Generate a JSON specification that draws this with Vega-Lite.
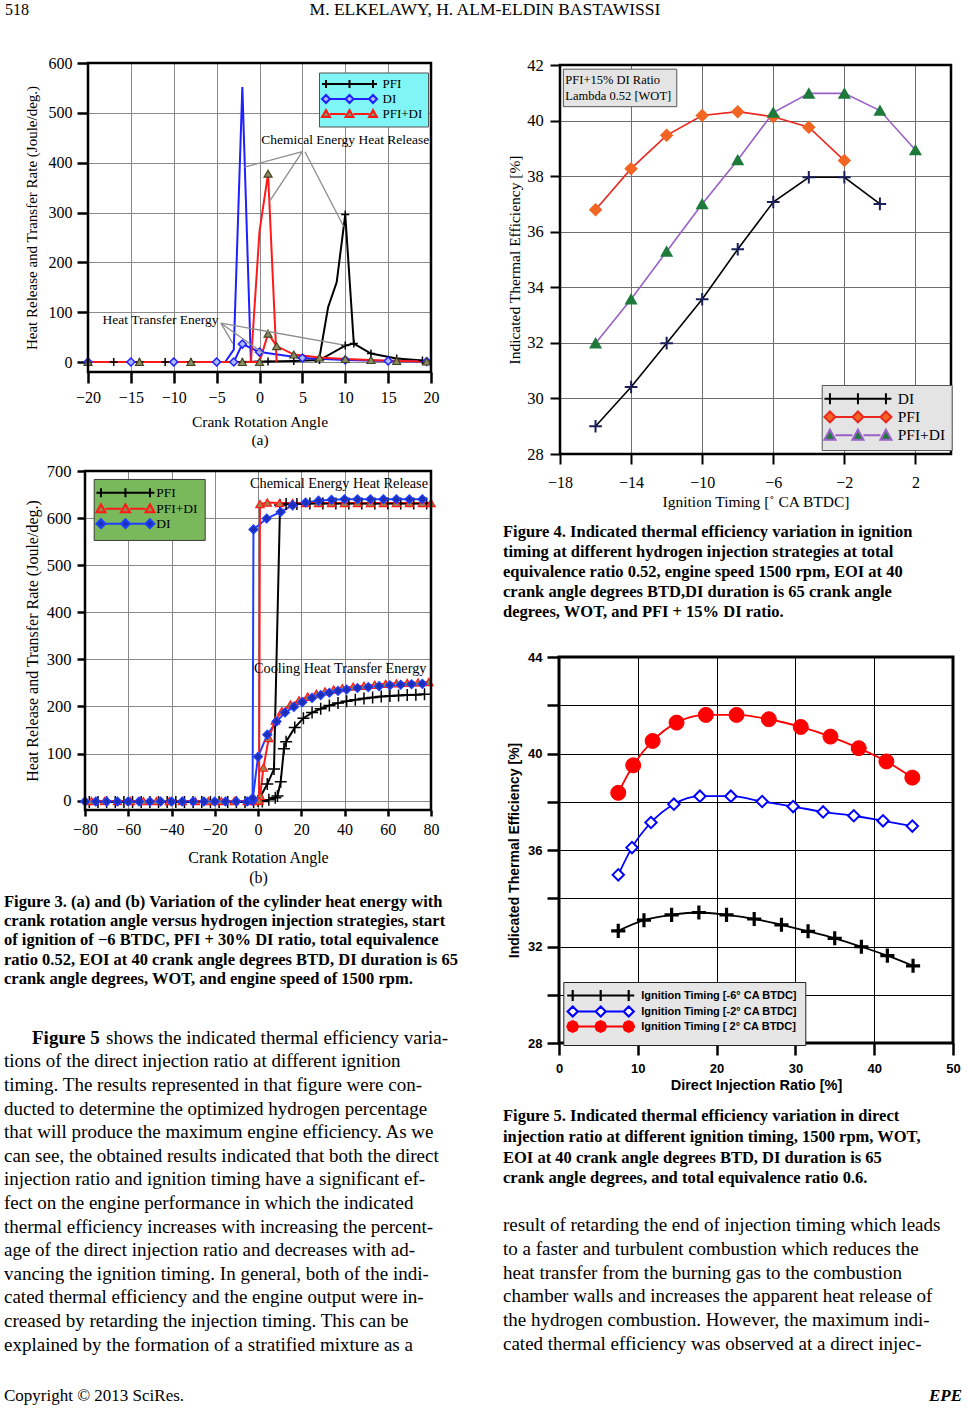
{
"$schema":"https://vega.github.io/schema/vega-lite/v6.json",
"background":"white",
"padding":{"left":4,"top":0,"right":0,"bottom":0},
"spacing":0,
"resolve":{"scale":{"color":"independent"},"legend":{"color":"independent"}},
"config":{
 "view":{"stroke":null},
 "font":"Liberation Serif",
 "text":{"font":"Liberation Serif","color":"black"},
 "axis":{"labelFont":"Liberation Serif","titleFont":"Liberation Serif","titleFontWeight":"normal","labelColor":"black","titleColor":"black","tickColor":"black","domain":false,"gridColor":"#8a8a8a","gridWidth":1,"gridOpacity":1,"labelFlush":false,"labelOverlap":false},
 "legend":{"labelFont":"Liberation Serif","labelColor":"black"}
},
"vconcat":[
 {"width":962,"height":20,
  "data":{"values":[{"slot":"left","text":"518"},{"slot":"center","text":"M. ELKELAWY, H. ALM-ELDIN BASTAWISSI"}]},
  "encoding":{"x":{"field":"slot","type":"nominal","scale":{"type":"point","domain":["left","center","right"],"padding":0},"axis":null},"text":{"field":"text"}},
  "layer":[
   {"transform":[{"filter":"datum.slot === 'left'"}],"mark":{"type":"text","align":"left","baseline":"middle","fontSize":16,"dx":1}},
   {"transform":[{"filter":"datum.slot === 'center'"}],"mark":{"type":"text","align":"center","baseline":"middle","fontSize":17.5}}
  ]},
 {"width":1,"height":26,"mark":"text","data":{"values":[]}},
 {"resolve":{"scale":{"color":"independent"},"legend":{"color":"independent"}},
  "hconcat":[
  {"resolve":{"scale":{"color":"independent"},"legend":{"color":"independent"}},
   "vconcat":[
   {"width":1,"height":9,"mark":"text","data":{"values":[]}},
   {"resolve":{"scale":{"color":"independent"},"legend":{"color":"independent"}},
    "hconcat":[
    {"width":20,"height":1,"mark":"text","data":{"values":[]}},
    {"width":343,"height":309,
     "data":{"values":[
      {"strategy":"PFI","curve":"transfer","x":-20,"y":0},{"strategy":"PFI","curve":"transfer","x":-17,"y":0},{"strategy":"PFI","curve":"transfer","x":-14,"y":0},{"strategy":"PFI","curve":"transfer","x":-11,"y":0},{"strategy":"PFI","curve":"transfer","x":-8,"y":0},{"strategy":"PFI","curve":"transfer","x":-5,"y":0},{"strategy":"PFI","curve":"transfer","x":-2,"y":0},{"strategy":"PFI","curve":"transfer","x":1,"y":1},{"strategy":"PFI","curve":"transfer","x":4,"y":2},{"strategy":"PFI","curve":"transfer","x":7,"y":4},{"strategy":"PFI","curve":"transfer","x":10,"y":33},{"strategy":"PFI","curve":"transfer","x":11,"y":37},{"strategy":"PFI","curve":"transfer","x":13,"y":17},{"strategy":"PFI","curve":"transfer","x":16,"y":7},{"strategy":"PFI","curve":"transfer","x":19,"y":3},
      {"strategy":"PFI","curve":"release","x":6.5,"y":0},{"strategy":"PFI","curve":"release","x":7,"y":10},{"strategy":"PFI","curve":"release","x":8,"y":110},{"strategy":"PFI","curve":"release","x":9,"y":160},{"strategy":"PFI","curve":"release","x":10,"y":296},{"strategy":"PFI","curve":"release","x":11,"y":37},
      {"strategy":"DI","curve":"transfer","x":-20,"y":0},{"strategy":"DI","curve":"transfer","x":-15,"y":0},{"strategy":"DI","curve":"transfer","x":-10,"y":0},{"strategy":"DI","curve":"transfer","x":-5,"y":0},{"strategy":"DI","curve":"transfer","x":-3,"y":0},{"strategy":"DI","curve":"transfer","x":-2,"y":36},{"strategy":"DI","curve":"transfer","x":0,"y":20},{"strategy":"DI","curve":"transfer","x":5,"y":8},{"strategy":"DI","curve":"transfer","x":10,"y":4},{"strategy":"DI","curve":"transfer","x":15,"y":2},{"strategy":"DI","curve":"transfer","x":19.5,"y":1},
      {"strategy":"DI","curve":"release","x":-4,"y":0},{"strategy":"DI","curve":"release","x":-3,"y":25},{"strategy":"DI","curve":"release","x":-2,"y":552},{"strategy":"DI","curve":"release","x":-1,"y":0},{"strategy":"DI","curve":"release","x":0,"y":1},
      {"strategy":"PFI+DI","curve":"transfer","x":-20,"y":0},{"strategy":"PFI+DI","curve":"transfer","x":-14,"y":0},{"strategy":"PFI+DI","curve":"transfer","x":-8,"y":0},{"strategy":"PFI+DI","curve":"transfer","x":-2,"y":0},{"strategy":"PFI+DI","curve":"transfer","x":0,"y":0},{"strategy":"PFI+DI","curve":"transfer","x":1,"y":57},{"strategy":"PFI+DI","curve":"transfer","x":2,"y":32},{"strategy":"PFI+DI","curve":"transfer","x":4,"y":15},{"strategy":"PFI+DI","curve":"transfer","x":7,"y":9},{"strategy":"PFI+DI","curve":"transfer","x":10,"y":6},{"strategy":"PFI+DI","curve":"transfer","x":13,"y":4},{"strategy":"PFI+DI","curve":"transfer","x":16,"y":2},{"strategy":"PFI+DI","curve":"transfer","x":19.5,"y":1},
      {"strategy":"PFI+DI","curve":"release","x":-1,"y":0},{"strategy":"PFI+DI","curve":"release","x":0,"y":262},{"strategy":"PFI+DI","curve":"release","x":1,"y":378},{"strategy":"PFI+DI","curve":"release","x":2,"y":0}
     ]},
     "layer":[
      {"mark":{"type":"line","strokeWidth":2},
       "encoding":{
        "x":{"field":"x","type":"quantitative","scale":{"domain":[-20,20],"nice":false,"zero":false},"axis":{"values":[-20,-15,-10,-5,0,5,10,15,20],"title":["Crank Rotation Angle","(a)"],"titleLineHeight":18,"titleFontSize":15.5,"labelFontSize":16,"tickSize":11,"tickWidth":2.5,"labelPadding":6,"titlePadding":9}},
        "y":{"field":"y","type":"quantitative","scale":{"domain":[-20,600],"nice":false,"zero":false},"axis":{"values":[0,100,200,300,400,500,600],"title":"Heat Release and Transfer Rate (Joule/deg.)","titleFontSize":15,"labelFontSize":16,"tickSize":11,"tickWidth":2.5,"labelPadding":5,"titlePadding":9}},
        "color":{"field":"strategy","type":"nominal","scale":{"domain":["PFI","DI","PFI+DI"],"range":["#000000","#1f1fff","#ff1a1a"]},
         "legend":{"orient":"none","legendX":231,"legendY":9.5,"title":null,"fillColor":"#7ff5f5","strokeColor":"#555555","padding":5,"labelFontSize":13,"symbolSize":4,"symbolStrokeWidth":2,"symbolOffset":-4.5,"labelOffset":50,"rowPadding":-3.3,
          "encode":{"symbols":{"update":{
           "shape":{"signal":"datum.value === 'PFI' ? 'M-4,0H51M0,-4V4M23.5,-4V4M47,-4V4' : datum.value === 'DI' ? 'M4,0H19.5M27.5,0H43M0,-4L4,0L0,4L-4,0ZM23.5,-4L27.5,0L23.5,4L19.5,0ZM47,-4L51,0L47,4L43,0Z' : 'M4,0H19.5M27.5,0H43M0,-4L4,3L-4,3ZM23.5,-4L27.5,3L19.5,3ZM47,-4L51,3L43,3Z'"},
           "size":{"value":4},
           "fill":{"signal":"datum.value === 'PFI' ? 'black' : datum.value === 'DI' ? '#a9b8ff' : '#8c8c63'"},
           "stroke":{"signal":"datum.value === 'PFI' ? 'black' : datum.value === 'DI' ? '#1f1fff' : '#ff1a1a'"},
           "opacity":{"value":1}}}}}},
        "detail":{"field":"curve","type":"nominal"}}},
      {"transform":[{"joinaggregate":[{"op":"max","field":"y","as":"ymax"}],"groupby":["strategy","curve"]},{"filter":"datum.strategy === 'PFI' && (datum.curve === 'transfer' || datum.y === datum.ymax)"}],
       "mark":{"type":"point","shape":"M-1,0H1M0,-1V1","size":64,"stroke":"black","strokeWidth":1.5,"opacity":1},
       "encoding":{"x":{"field":"x","type":"quantitative"},"y":{"field":"y","type":"quantitative"}}},
      {"transform":[{"filter":"datum.strategy === 'DI' && datum.curve === 'transfer'"}],
       "mark":{"type":"point","shape":"diamond","size":64,"fill":"#a9b8ff","stroke":"#1f1fff","strokeWidth":1.5,"opacity":1},
       "encoding":{"x":{"field":"x","type":"quantitative"},"y":{"field":"y","type":"quantitative"}}},
      {"transform":[{"joinaggregate":[{"op":"max","field":"y","as":"ymax"}],"groupby":["strategy","curve"]},{"filter":"datum.strategy === 'PFI+DI' && (datum.curve === 'transfer' || datum.y === datum.ymax)"}],
       "mark":{"type":"point","shape":"triangle-up","size":64,"fill":"#8c8c63","stroke":"#444422","strokeWidth":1.2,"opacity":1},
       "encoding":{"x":{"field":"x","type":"quantitative"},"y":{"field":"y","type":"quantitative"}}},
      {"data":{"values":[{"x":5.0,"y":422,"x2":-1.75,"y2":391},{"x":5.0,"y":422,"x2":1.15,"y2":322},{"x":5.3,"y":422,"x2":9.82,"y2":272},{"x":-4.5,"y":78,"x2":-3.1,"y2":37},{"x":-4.5,"y":78,"x2":0.5,"y2":17},{"x":-4.5,"y":78,"x2":9.9,"y2":34}]},
       "mark":{"type":"rule","color":"#8c8c8c","strokeWidth":1.3},
       "encoding":{"x":{"field":"x","type":"quantitative"},"y":{"field":"y","type":"quantitative"},"x2":{"field":"x2"},"y2":{"field":"y2"}}},
      {"data":{"values":[{"x":0.2,"y":445,"label":"Chemical Energy Heat Release"},{"x":-18.3,"y":84,"label":"Heat Transfer Energy"}]},
       "mark":{"type":"text","align":"left","baseline":"middle","fontSize":13.5},
       "encoding":{"x":{"field":"x","type":"quantitative"},"y":{"field":"y","type":"quantitative"},"text":{"field":"label"}}},
      {"data":{"values":[{}]},"mark":{"type":"rect","filled":false,"color":"black","strokeWidth":2.5}}
     ]}
   ],"spacing":0},
   {"width":1,"height":15,"mark":"text","data":{"values":[]}},
   {"resolve":{"scale":{"color":"independent"},"legend":{"color":"independent"}},
    "hconcat":[
    {"width":20,"height":1,"mark":"text","data":{"values":[]}},
    {"width":346,"height":339,
     "data":{"values":[
      {"strategy":"PFI","curve":"transfer","x":-78,"y":-3},{"strategy":"PFI","curve":"transfer","x":-74,"y":-3},{"strategy":"PFI","curve":"transfer","x":-70,"y":-3},{"strategy":"PFI","curve":"transfer","x":-66,"y":-3},{"strategy":"PFI","curve":"transfer","x":-62,"y":-3},{"strategy":"PFI","curve":"transfer","x":-58,"y":-3},{"strategy":"PFI","curve":"transfer","x":-54,"y":-3},{"strategy":"PFI","curve":"transfer","x":-50,"y":-3},{"strategy":"PFI","curve":"transfer","x":-46,"y":-3},{"strategy":"PFI","curve":"transfer","x":-42,"y":-3},{"strategy":"PFI","curve":"transfer","x":-38,"y":-3},{"strategy":"PFI","curve":"transfer","x":-34,"y":-3},{"strategy":"PFI","curve":"transfer","x":-30,"y":-3},{"strategy":"PFI","curve":"transfer","x":-26,"y":-3},{"strategy":"PFI","curve":"transfer","x":-22,"y":-3},{"strategy":"PFI","curve":"transfer","x":-18,"y":-3},{"strategy":"PFI","curve":"transfer","x":-14,"y":-3},{"strategy":"PFI","curve":"transfer","x":-10,"y":-3},{"strategy":"PFI","curve":"transfer","x":-6,"y":-3},{"strategy":"PFI","curve":"transfer","x":-2,"y":-3},{"strategy":"PFI","curve":"transfer","x":2,"y":-2},{"strategy":"PFI","curve":"transfer","x":5,"y":2},{"strategy":"PFI","curve":"transfer","x":8,"y":6},{"strategy":"PFI","curve":"transfer","x":9,"y":10},{"strategy":"PFI","curve":"transfer","x":10.5,"y":40},{"strategy":"PFI","curve":"transfer","x":12,"y":110},{"strategy":"PFI","curve":"transfer","x":13,"y":125},{"strategy":"PFI","curve":"transfer","x":17,"y":155},{"strategy":"PFI","curve":"transfer","x":21,"y":175},{"strategy":"PFI","curve":"transfer","x":25,"y":187},{"strategy":"PFI","curve":"transfer","x":29,"y":195},{"strategy":"PFI","curve":"transfer","x":33,"y":202},{"strategy":"PFI","curve":"transfer","x":37,"y":207},{"strategy":"PFI","curve":"transfer","x":41,"y":211},{"strategy":"PFI","curve":"transfer","x":45,"y":214},{"strategy":"PFI","curve":"transfer","x":49,"y":217},{"strategy":"PFI","curve":"transfer","x":53,"y":219},{"strategy":"PFI","curve":"transfer","x":57,"y":221},{"strategy":"PFI","curve":"transfer","x":61,"y":222},{"strategy":"PFI","curve":"transfer","x":65,"y":223},{"strategy":"PFI","curve":"transfer","x":69,"y":224},{"strategy":"PFI","curve":"transfer","x":73,"y":225},{"strategy":"PFI","curve":"transfer","x":77,"y":226},
      {"strategy":"PFI","curve":"release","x":0,"y":-1},{"strategy":"PFI","curve":"release","x":4.3,"y":35},{"strategy":"PFI","curve":"release","x":7.4,"y":67},{"strategy":"PFI","curve":"release","x":10.2,"y":628},{"strategy":"PFI","curve":"release","x":13,"y":630},{"strategy":"PFI","curve":"release","x":18,"y":630},{"strategy":"PFI","curve":"release","x":24,"y":631},{"strategy":"PFI","curve":"release","x":30,"y":631},{"strategy":"PFI","curve":"release","x":36,"y":631},{"strategy":"PFI","curve":"release","x":42,"y":631},{"strategy":"PFI","curve":"release","x":48,"y":631},{"strategy":"PFI","curve":"release","x":54,"y":631},{"strategy":"PFI","curve":"release","x":60,"y":631},{"strategy":"PFI","curve":"release","x":66,"y":631},{"strategy":"PFI","curve":"release","x":72,"y":631},{"strategy":"PFI","curve":"release","x":78,"y":631},
      {"strategy":"DI","curve":"transfer","x":-80,"y":-2},{"strategy":"DI","curve":"transfer","x":-75,"y":-2},{"strategy":"DI","curve":"transfer","x":-70,"y":-2},{"strategy":"DI","curve":"transfer","x":-65,"y":-2},{"strategy":"DI","curve":"transfer","x":-60,"y":-2},{"strategy":"DI","curve":"transfer","x":-55,"y":-2},{"strategy":"DI","curve":"transfer","x":-50,"y":-2},{"strategy":"DI","curve":"transfer","x":-45,"y":-2},{"strategy":"DI","curve":"transfer","x":-40,"y":-2},{"strategy":"DI","curve":"transfer","x":-35,"y":-2},{"strategy":"DI","curve":"transfer","x":-30,"y":-2},{"strategy":"DI","curve":"transfer","x":-25,"y":-2},{"strategy":"DI","curve":"transfer","x":-20,"y":-2},{"strategy":"DI","curve":"transfer","x":-15,"y":-2},{"strategy":"DI","curve":"transfer","x":-10,"y":-2},{"strategy":"DI","curve":"transfer","x":-5,"y":-2},{"strategy":"DI","curve":"transfer","x":-2.5,"y":0},{"strategy":"DI","curve":"transfer","x":0,"y":93},{"strategy":"DI","curve":"transfer","x":4.3,"y":140},{"strategy":"DI","curve":"transfer","x":8.6,"y":168},{"strategy":"DI","curve":"transfer","x":12.5,"y":187},{"strategy":"DI","curve":"transfer","x":16.6,"y":199},{"strategy":"DI","curve":"transfer","x":20.5,"y":209},{"strategy":"DI","curve":"transfer","x":25,"y":218},{"strategy":"DI","curve":"transfer","x":29,"y":224},{"strategy":"DI","curve":"transfer","x":33,"y":229},{"strategy":"DI","curve":"transfer","x":37,"y":233},{"strategy":"DI","curve":"transfer","x":41,"y":236},{"strategy":"DI","curve":"transfer","x":46,"y":239},{"strategy":"DI","curve":"transfer","x":51,"y":241},{"strategy":"DI","curve":"transfer","x":56,"y":243},{"strategy":"DI","curve":"transfer","x":61,"y":245},{"strategy":"DI","curve":"transfer","x":66,"y":246},{"strategy":"DI","curve":"transfer","x":71,"y":247},{"strategy":"DI","curve":"transfer","x":76,"y":248},
      {"strategy":"DI","curve":"release","x":-2.5,"y":5},{"strategy":"DI","curve":"release","x":-2.1,"y":576},{"strategy":"DI","curve":"release","x":4,"y":599},{"strategy":"DI","curve":"release","x":10.5,"y":613},{"strategy":"DI","curve":"release","x":16,"y":627},{"strategy":"DI","curve":"release","x":22,"y":633},{"strategy":"DI","curve":"release","x":28,"y":637},{"strategy":"DI","curve":"release","x":34,"y":639},{"strategy":"DI","curve":"release","x":40,"y":640},{"strategy":"DI","curve":"release","x":46,"y":640},{"strategy":"DI","curve":"release","x":52,"y":640},{"strategy":"DI","curve":"release","x":58,"y":640},{"strategy":"DI","curve":"release","x":64,"y":640},{"strategy":"DI","curve":"release","x":70,"y":640},{"strategy":"DI","curve":"release","x":76,"y":640},
      {"strategy":"PFI+DI","curve":"transfer","x":-77,"y":-1},{"strategy":"PFI+DI","curve":"transfer","x":-71,"y":-1},{"strategy":"PFI+DI","curve":"transfer","x":-65,"y":-1},{"strategy":"PFI+DI","curve":"transfer","x":-59,"y":-1},{"strategy":"PFI+DI","curve":"transfer","x":-53,"y":-1},{"strategy":"PFI+DI","curve":"transfer","x":-47,"y":-1},{"strategy":"PFI+DI","curve":"transfer","x":-41,"y":-1},{"strategy":"PFI+DI","curve":"transfer","x":-35,"y":-1},{"strategy":"PFI+DI","curve":"transfer","x":-29,"y":-1},{"strategy":"PFI+DI","curve":"transfer","x":-23,"y":-1},{"strategy":"PFI+DI","curve":"transfer","x":-17,"y":-1},{"strategy":"PFI+DI","curve":"transfer","x":-11,"y":-1},{"strategy":"PFI+DI","curve":"transfer","x":-5,"y":-1},{"strategy":"PFI+DI","curve":"transfer","x":-1,"y":-1},{"strategy":"PFI+DI","curve":"transfer","x":1,"y":10},{"strategy":"PFI+DI","curve":"transfer","x":2.5,"y":70},{"strategy":"PFI+DI","curve":"transfer","x":5,"y":133},{"strategy":"PFI+DI","curve":"transfer","x":8,"y":170},{"strategy":"PFI+DI","curve":"transfer","x":11,"y":190},{"strategy":"PFI+DI","curve":"transfer","x":15,"y":204},{"strategy":"PFI+DI","curve":"transfer","x":19,"y":213},{"strategy":"PFI+DI","curve":"transfer","x":23,"y":221},{"strategy":"PFI+DI","curve":"transfer","x":27,"y":227},{"strategy":"PFI+DI","curve":"transfer","x":31,"y":232},{"strategy":"PFI+DI","curve":"transfer","x":35,"y":236},{"strategy":"PFI+DI","curve":"transfer","x":39,"y":239},{"strategy":"PFI+DI","curve":"transfer","x":44,"y":242},{"strategy":"PFI+DI","curve":"transfer","x":49,"y":244},{"strategy":"PFI+DI","curve":"transfer","x":54,"y":246},{"strategy":"PFI+DI","curve":"transfer","x":59,"y":248},{"strategy":"PFI+DI","curve":"transfer","x":64,"y":249},{"strategy":"PFI+DI","curve":"transfer","x":69,"y":250},{"strategy":"PFI+DI","curve":"transfer","x":74,"y":251},{"strategy":"PFI+DI","curve":"transfer","x":79,"y":252},
      {"strategy":"PFI+DI","curve":"release","x":0.5,"y":0},{"strategy":"PFI+DI","curve":"release","x":0.9,"y":630},{"strategy":"PFI+DI","curve":"release","x":4.3,"y":633},{"strategy":"PFI+DI","curve":"release","x":10,"y":632},{"strategy":"PFI+DI","curve":"release","x":16,"y":632},{"strategy":"PFI+DI","curve":"release","x":22,"y":632},{"strategy":"PFI+DI","curve":"release","x":28,"y":632},{"strategy":"PFI+DI","curve":"release","x":34,"y":632},{"strategy":"PFI+DI","curve":"release","x":40,"y":632},{"strategy":"PFI+DI","curve":"release","x":46,"y":632},{"strategy":"PFI+DI","curve":"release","x":52,"y":632},{"strategy":"PFI+DI","curve":"release","x":58,"y":632},{"strategy":"PFI+DI","curve":"release","x":64,"y":632},{"strategy":"PFI+DI","curve":"release","x":70,"y":632},{"strategy":"PFI+DI","curve":"release","x":76,"y":632},{"strategy":"PFI+DI","curve":"release","x":80,"y":632}
     ]},
     "layer":[
      {"mark":{"type":"line","strokeWidth":2},
       "encoding":{
        "x":{"field":"x","type":"quantitative","scale":{"domain":[-80,80],"nice":false,"zero":false},"axis":{"values":[-80,-60,-40,-20,0,20,40,60,80],"title":["Crank Rotation Angle","(b)"],"titleLineHeight":20,"titleFontSize":16,"labelFontSize":16,"tickSize":6,"tickWidth":2.5,"labelPadding":5,"titlePadding":12}},
        "y":{"field":"y","type":"quantitative","scale":{"domain":[-20,700],"nice":false,"zero":false},"axis":{"values":[0,100,200,300,400,500,600,700],"title":"Heat Release and Transfer Rate (Joule/deg.)","titleFontSize":16,"labelFontSize":16.5,"tickSize":8,"tickWidth":2.5,"labelPadding":6,"titlePadding":6}},
        "color":{"field":"strategy","type":"nominal","scale":{"domain":["PFI","PFI+DI","DI"],"range":["#000000","#ff1a1a","#1f3fff"]},
         "legend":{"orient":"none","legendX":8.7,"legendY":7.95,"title":null,"fillColor":"#7ab85c","strokeColor":"#3a3a3a","padding":7,"labelFontSize":13.5,"symbolSize":4,"symbolStrokeWidth":2,"symbolOffset":-6.5,"labelOffset":48.5,"rowPadding":-2.9,
          "encode":{"symbols":{"update":{
           "shape":{"signal":"datum.value === 'PFI' ? 'M-4.5,0H53.5M0,-4.5V4.5M24.5,-4.5V4.5M49,-4.5V4.5' : datum.value === 'PFI+DI' ? 'M4.5,0H20M29,0H44.5M0,-4.5L4.5,3.5L-4.5,3.5ZM24.5,-4.5L29,3.5L20,3.5ZM49,-4.5L53.5,3.5L44.5,3.5Z' : 'M4.5,0H20M29,0H44.5M0,-4.5L4.5,0L0,4.5L-4.5,0ZM24.5,-4.5L29,0L24.5,4.5L20,0ZM49,-4.5L53.5,0L49,4.5L44.5,0Z'"},
           "size":{"value":4},
           "fill":{"signal":"datum.value === 'PFI' ? 'black' : datum.value === 'PFI+DI' ? '#a08048' : '#1c2fb5'"},
           "stroke":{"signal":"datum.value === 'PFI' ? 'black' : datum.value === 'PFI+DI' ? '#ff1a1a' : '#1f3fff'"},
           "opacity":{"value":1}}}}}},
        "detail":{"field":"curve","type":"nominal"}}},
      {"transform":[{"filter":"datum.strategy === 'PFI'"}],
       "mark":{"type":"point","shape":"M-1,0H1M0,-1V1","size":144,"stroke":"black","strokeWidth":1.5,"opacity":1},
       "encoding":{"x":{"field":"x","type":"quantitative"},"y":{"field":"y","type":"quantitative"}}},
      {"transform":[{"filter":"datum.strategy === 'PFI+DI'"}],
       "mark":{"type":"point","shape":"triangle-up","size":70,"fill":"#a08048","stroke":"#ff1a1a","strokeWidth":1.2,"opacity":1},
       "encoding":{"x":{"field":"x","type":"quantitative"},"y":{"field":"y","type":"quantitative"}}},
      {"transform":[{"filter":"datum.strategy === 'DI'"}],
       "mark":{"type":"point","shape":"diamond","size":80,"fill":"#1c2fb5","stroke":"#1f3fff","strokeWidth":1.2,"opacity":1},
       "encoding":{"x":{"field":"x","type":"quantitative"},"y":{"field":"y","type":"quantitative"}}},
      {"data":{"values":[{"x":-3.7,"y":672,"label":"Chemical Energy Heat Release"},{"x":-1.85,"y":280,"label":"Cooling Heat Transfer Energy"}]},
       "mark":{"type":"text","align":"left","baseline":"middle","fontSize":14.3},
       "encoding":{"x":{"field":"x","type":"quantitative"},"y":{"field":"y","type":"quantitative"},"text":{"field":"label"}}},
      {"data":{"values":[{}]},"mark":{"type":"rect","filled":false,"color":"black","strokeWidth":2.5}}
     ]}
   ],"spacing":0},
   {"width":1,"height":6.35,"mark":"text","data":{"values":[]}},
   {"width":460,"height":96.5,
    "data":{"values":[
     {"line":1,"text":"Figure 3. (a) and (b) Variation of the cylinder heat energy with"},
     {"line":2,"text":"crank rotation angle versus hydrogen injection strategies, start"},
     {"line":3,"text":"of ignition of −6 BTDC, PFI + 30% DI ratio, total equivalence"},
     {"line":4,"text":"ratio 0.52, EOI at 40 crank angle degrees BTD, DI duration is 65"},
     {"line":5,"text":"crank angle degrees, WOT, and engine speed of 1500 rpm."}
    ]},
    "mark":{"type":"text","align":"left","baseline":"middle","fontSize":16.5,"fontWeight":"bold"},
    "encoding":{"x":{"datum":0,"type":"quantitative","scale":{"domain":[0,1]},"axis":null},"y":{"field":"line","type":"ordinal","scale":{"type":"point","padding":0.5},"axis":null},"text":{"field":"text"}}},
   {"width":1,"height":36.35,"mark":"text","data":{"values":[]}},
   {"width":460,"height":330.4,
    "encoding":{"x":{"datum":0,"type":"quantitative","scale":{"domain":[0,1]},"axis":null},"y":{"field":"line","type":"ordinal","scale":{"type":"point","padding":0.5,"domain":[1,2,3,4,5,6,7,8,9,10,11,12,13,14]},"axis":null},"text":{"field":"text"}},
    "layer":[
     {"data":{"values":[{"line":1,"text":"Figure 5"}]},"mark":{"type":"text","align":"left","baseline":"middle","fontSize":19,"fontWeight":"bold","dx":28}},
     {"data":{"name":"paraL","values":[
      {"line":1,"text":"shows the indicated thermal efficiency varia-"},
      {"line":2,"text":"tions of the direct injection ratio at different ignition"},
      {"line":3,"text":"timing. The results represented in that figure were con-"},
      {"line":4,"text":"ducted to determine the optimized hydrogen percentage"},
      {"line":5,"text":"that will produce the maximum engine efficiency. As we"},
      {"line":6,"text":"can see, the obtained results indicated that both the direct"},
      {"line":7,"text":"injection ratio and ignition timing have a significant ef-"},
      {"line":8,"text":"fect on the engine performance in which the indicated"},
      {"line":9,"text":"thermal efficiency increases with increasing the percent-"},
      {"line":10,"text":"age of the direct injection ratio and decreases with ad-"},
      {"line":11,"text":"vancing the ignition timing. In general, both of the indi-"},
      {"line":12,"text":"cated thermal efficiency and the engine output were in-"},
      {"line":13,"text":"creased by retarding the injection timing. This can be"},
      {"line":14,"text":"explained by the formation of a stratified mixture as a"}
     ]},"transform":[{"filter":"datum.line === 1"}],"mark":{"type":"text","align":"left","baseline":"middle","fontSize":19,"dx":102}},
     {"data":{"name":"paraL"},"transform":[{"filter":"datum.line > 1"}],"mark":{"type":"text","align":"left","baseline":"middle","fontSize":19}}
    ]}
  ],"spacing":0},
  {"resolve":{"scale":{"color":"independent"},"legend":{"color":"independent"}},
   "vconcat":[
   {"width":1,"height":11,"mark":"text","data":{"values":[]}},
   {"resolve":{"scale":{"color":"independent"},"legend":{"color":"independent"}},
    "hconcat":[
    {"width":4,"height":1,"mark":"text","data":{"values":[]}},
    {"width":391,"height":389,
     "data":{"values":[
      {"strategy":"DI","x":-16,"y":29.0},{"strategy":"DI","x":-14,"y":30.41},{"strategy":"DI","x":-12,"y":31.99},{"strategy":"DI","x":-10,"y":33.57},{"strategy":"DI","x":-8,"y":35.37},{"strategy":"DI","x":-6,"y":37.07},{"strategy":"DI","x":-4,"y":37.96},{"strategy":"DI","x":-2,"y":37.96},{"strategy":"DI","x":0,"y":37.0},
      {"strategy":"PFI","x":-16,"y":36.79},{"strategy":"PFI","x":-14,"y":38.27},{"strategy":"PFI","x":-12,"y":39.47},{"strategy":"PFI","x":-10,"y":40.18},{"strategy":"PFI","x":-8,"y":40.32},{"strategy":"PFI","x":-6,"y":40.14},{"strategy":"PFI","x":-4,"y":39.76},{"strategy":"PFI","x":-2,"y":38.56},
      {"strategy":"PFI+DI","x":-16,"y":31.99},{"strategy":"PFI+DI","x":-14,"y":33.57},{"strategy":"PFI+DI","x":-12,"y":35.29},{"strategy":"PFI+DI","x":-10,"y":37.0},{"strategy":"PFI+DI","x":-8,"y":38.58},{"strategy":"PFI+DI","x":-6,"y":40.29},{"strategy":"PFI+DI","x":-4,"y":40.98},{"strategy":"PFI+DI","x":-2,"y":40.98},{"strategy":"PFI+DI","x":0,"y":40.36},{"strategy":"PFI+DI","x":2,"y":38.94}
     ]},
     "layer":[
      {"data":{"values":[{"x":-17.81,"x2":-11.43,"y":41.85,"y2":40.5}]},
       "mark":{"type":"rect","fill":"#e4e4e4","stroke":"#555555","strokeWidth":1},
       "encoding":{"x":{"field":"x","type":"quantitative","scale":{"domain":[-18,4],"nice":false,"zero":false},"axis":{"values":[-18,-16,-14,-12,-10,-8,-6,-4,-2,0,2,4],"title":"Ignition Timing [˚ CA BTDC]","titleFontSize":15.5,"labelFontSize":16,"tickSize":10,"tickWidth":2,"labelPadding":10,"titlePadding":4,"gridColor":"#6e6e6e"}},
        "x2":{"field":"x2"},
        "y":{"field":"y","type":"quantitative","scale":{"domain":[28,42],"nice":false,"zero":false},"axis":{"values":[28,30,32,34,36,38,40,42],"title":"Indicated Thermal Efficiency [%]","titleFontSize":15.5,"labelFontSize":16.5,"tickSize":10,"tickWidth":2,"labelPadding":6.7,"titlePadding":4.6,"gridColor":"#6e6e6e"}},
        "y2":{"field":"y2"}}},
      {"data":{"values":[{"x":-17.7,"y":41.46,"label":"PFI+15% DI Ratio"},{"x":-17.7,"y":40.9,"label":"Lambda 0.52 [WOT]"}]},
       "mark":{"type":"text","align":"left","baseline":"middle","fontSize":12.5},
       "encoding":{"x":{"field":"x","type":"quantitative"},"y":{"field":"y","type":"quantitative"},"text":{"field":"label"}}},
      {"mark":{"type":"line","strokeWidth":1.6},
       "encoding":{
        "x":{"field":"x","type":"quantitative"},
        "y":{"field":"y","type":"quantitative"},
        "color":{"field":"strategy","type":"nominal","scale":{"domain":["DI","PFI","PFI+DI"],"range":["#000000","#e8281e","#9a5fc8"]},
         "legend":{"orient":"none","legendX":261.7,"legendY":320,"title":null,"fillColor":"#e4e4e4","strokeColor":"#555555","padding":6,"labelFontSize":15.5,"symbolSize":4,"symbolStrokeWidth":2,"symbolOffset":-5.5,"labelOffset":60,"rowPadding":-1.8,
          "encode":{"symbols":{"update":{
           "shape":{"signal":"datum.value === 'DI' ? 'M-5.5,0H61.5M0,-5.5V5.5M28,-5.5V5.5M56,-5.5V5.5' : datum.value === 'PFI' ? 'M5.5,0H22.5M33.5,0H50.5M0,-5.5L5.5,0L0,5.5L-5.5,0ZM28,-5.5L33.5,0L28,5.5L22.5,0ZM56,-5.5L61.5,0L56,5.5L50.5,0Z' : 'M5.5,0H22.5M33.5,0H50.5M0,-5.5L5.5,4.5L-5.5,4.5ZM28,-5.5L33.5,4.5L22.5,4.5ZM56,-5.5L61.5,4.5L50.5,4.5Z'"},
           "size":{"value":4},
           "fill":{"signal":"datum.value === 'DI' ? '#1a1f5a' : datum.value === 'PFI' ? '#f26522' : '#1e7a3a'"},
           "stroke":{"signal":"datum.value === 'DI' ? '#111133' : datum.value === 'PFI' ? '#e8281e' : '#9a5fc8'"},
           "opacity":{"value":1}}}}}}}},
      {"transform":[{"filter":"datum.strategy === 'DI'"}],
       "mark":{"type":"point","shape":"M-1,0H1M0,-1V1","size":160,"stroke":"#1a1f5a","strokeWidth":2,"opacity":1},
       "encoding":{"x":{"field":"x","type":"quantitative"},"y":{"field":"y","type":"quantitative"}}},
      {"transform":[{"filter":"datum.strategy === 'PFI'"}],
       "mark":{"type":"point","shape":"diamond","size":130,"fill":"#f26522","stroke":"#f26522","strokeWidth":1.5,"opacity":1},
       "encoding":{"x":{"field":"x","type":"quantitative"},"y":{"field":"y","type":"quantitative"}}},
      {"transform":[{"filter":"datum.strategy === 'PFI+DI'"}],
       "mark":{"type":"point","shape":"triangle-up","size":110,"fill":"#1e7a3a","stroke":"#1e7a3a","strokeWidth":1.5,"opacity":1},
       "encoding":{"x":{"field":"x","type":"quantitative"},"y":{"field":"y","type":"quantitative"}}},
      {"data":{"values":[{}]},"mark":{"type":"rect","filled":false,"color":"black","strokeWidth":2.5}}
     ]}
   ],"spacing":0},
   {"width":1,"height":11.2,"mark":"text","data":{"values":[]}},
   {"width":460,"height":100,
    "data":{"values":[
     {"line":1,"text":"Figure 4. Indicated thermal efficiency variation in ignition"},
     {"line":2,"text":"timing at different hydrogen injection strategies at total"},
     {"line":3,"text":"equivalence ratio 0.52, engine speed 1500 rpm, EOI at 40"},
     {"line":4,"text":"crank angle degrees BTD,DI duration is 65 crank angle"},
     {"line":5,"text":"degrees, WOT, and PFI + 15% DI ratio."}
    ]},
    "mark":{"type":"text","align":"left","baseline":"middle","fontSize":16.5,"fontWeight":"bold"},
    "encoding":{"x":{"datum":0,"type":"quantitative","scale":{"domain":[0,1]},"axis":null},"y":{"field":"line","type":"ordinal","scale":{"type":"point","padding":0.5},"axis":null},"text":{"field":"text"}}},
   {"width":1,"height":28.8,"mark":"text","data":{"values":[]}},
   {"resolve":{"scale":{"color":"independent"},"legend":{"color":"independent"}},
    "hconcat":[
    {"width":4,"height":1,"mark":"text","data":{"values":[]}},
    {"width":394,"height":386,
     "data":{"values":[
      {"series":"Ignition Timing [-6° CA BTDC]","x":7.52,"y":32.65},{"series":"Ignition Timing [-6° CA BTDC]","x":10.78,"y":33.09},{"series":"Ignition Timing [-6° CA BTDC]","x":14.29,"y":33.31},{"series":"Ignition Timing [-6° CA BTDC]","x":17.75,"y":33.41},{"series":"Ignition Timing [-6° CA BTDC]","x":21.26,"y":33.31},{"series":"Ignition Timing [-6° CA BTDC]","x":24.77,"y":33.14},{"series":"Ignition Timing [-6° CA BTDC]","x":28.23,"y":32.9},{"series":"Ignition Timing [-6° CA BTDC]","x":31.61,"y":32.63},{"series":"Ignition Timing [-6° CA BTDC]","x":34.99,"y":32.34},{"series":"Ignition Timing [-6° CA BTDC]","x":38.37,"y":31.99},{"series":"Ignition Timing [-6° CA BTDC]","x":41.67,"y":31.62},{"series":"Ignition Timing [-6° CA BTDC]","x":44.93,"y":31.2},
      {"series":"Ignition Timing [-2° CA BTDC]","x":7.52,"y":34.97},{"series":"Ignition Timing [-2° CA BTDC]","x":9.26,"y":36.1},{"series":"Ignition Timing [-2° CA BTDC]","x":11.67,"y":37.14},{"series":"Ignition Timing [-2° CA BTDC]","x":14.58,"y":37.9},{"series":"Ignition Timing [-2° CA BTDC]","x":17.88,"y":38.23},{"series":"Ignition Timing [-2° CA BTDC]","x":21.81,"y":38.23},{"series":"Ignition Timing [-2° CA BTDC]","x":25.78,"y":38.01},{"series":"Ignition Timing [-2° CA BTDC]","x":29.71,"y":37.8},{"series":"Ignition Timing [-2° CA BTDC]","x":33.52,"y":37.58},{"series":"Ignition Timing [-2° CA BTDC]","x":37.41,"y":37.42},{"series":"Ignition Timing [-2° CA BTDC]","x":41.12,"y":37.21},{"series":"Ignition Timing [-2° CA BTDC]","x":44.84,"y":36.99},
      {"series":"Ignition Timing [ 2° CA BTDC]","x":7.52,"y":38.37},{"series":"Ignition Timing [ 2° CA BTDC]","x":9.42,"y":39.51},{"series":"Ignition Timing [ 2° CA BTDC]","x":11.88,"y":40.52},{"series":"Ignition Timing [ 2° CA BTDC]","x":14.92,"y":41.28},{"series":"Ignition Timing [ 2° CA BTDC]","x":18.64,"y":41.6},{"series":"Ignition Timing [ 2° CA BTDC]","x":22.53,"y":41.6},{"series":"Ignition Timing [ 2° CA BTDC]","x":26.63,"y":41.42},{"series":"Ignition Timing [ 2° CA BTDC]","x":30.68,"y":41.1},{"series":"Ignition Timing [ 2° CA BTDC]","x":34.45,"y":40.7},{"series":"Ignition Timing [ 2° CA BTDC]","x":38.04,"y":40.22},{"series":"Ignition Timing [ 2° CA BTDC]","x":41.55,"y":39.67},{"series":"Ignition Timing [ 2° CA BTDC]","x":44.84,"y":39.0}
     ]},
     "layer":[
      {"mark":{"type":"line","strokeWidth":1.8,"interpolate":"monotone"},
       "encoding":{
        "x":{"field":"x","type":"quantitative","scale":{"domain":[0,50],"nice":false,"zero":false},"axis":{"values":[0,5,10,15,20,25,30,35,40,45,50],"labelExpr":"datum.value % 10 === 0 ? datum.label : ''","title":"Direct Injection Ratio [%]","labelFont":"Liberation Sans","labelFontWeight":"bold","titleFont":"Liberation Sans","titleFontWeight":"bold","titleFontSize":14.5,"labelFontSize":13,"tickSize":12,"tickWidth":2.5,"labelPadding":7.5,"titlePadding":2.5,"gridColor":"#000000"}},
        "y":{"field":"y","type":"quantitative","scale":{"domain":[28,44],"nice":false,"zero":false},"axis":{"values":[28,30,32,34,36,38,40,42,44],"labelExpr":"datum.value % 4 === 0 ? datum.label : ''","title":"Indicated Thermal Efficiency [%]","labelFont":"Liberation Sans","labelFontWeight":"bold","titleFont":"Liberation Sans","titleFontWeight":"bold","titleFontSize":14,"labelFontSize":13,"tickSize":12,"tickWidth":2.5,"labelPadding":5,"titlePadding":6,"gridColor":"#000000"}},
        "color":{"field":"series","type":"nominal","scale":{"domain":["Ignition Timing [-6° CA BTDC]","Ignition Timing [-2° CA BTDC]","Ignition Timing [ 2° CA BTDC]"],"range":["#000000","#0000ff","#ff0000"]},
         "legend":{"orient":"none","legendX":4.3,"legendY":325,"title":null,"fillColor":"#e6e6e6","strokeColor":"#222222","padding":8,"labelFont":"Liberation Sans","labelFontWeight":"bold","labelFontSize":11,"labelLimit":300,"symbolSize":4,"symbolStrokeWidth":2.2,"symbolOffset":-4.1,"labelOffset":63,"rowPadding":-5.5,
          "encode":{"symbols":{"update":{
           "shape":{"signal":"datum.index === 0 ? 'M-5.5,0H61.5M0,-5.5V5.5M28,-5.5V5.5M56,-5.5V5.5' : datum.index === 1 ? 'M5,0H23M33,0H51M0,-5L5,0L0,5L-5,0ZM28,-5L33,0L28,5L23,0ZM56,-5L61,0L56,5L51,0Z' : 'M5.3,0H22.7M33.3,0H50.7M-5.3,0L-3.75,-3.75L0,-5.3L3.75,-3.75L5.3,0L3.75,3.75L0,5.3L-3.75,3.75ZM22.7,0L24.25,-3.75L28,-5.3L31.75,-3.75L33.3,0L31.75,3.75L28,5.3L24.25,3.75ZM50.7,0L52.25,-3.75L56,-5.3L59.75,-3.75L61.3,0L59.75,3.75L56,5.3L52.25,3.75Z'"},
           "size":{"value":4},
           "fill":{"signal":"datum.index === 0 ? 'black' : datum.index === 1 ? 'white' : '#ff0000'"},
           "stroke":{"signal":"datum.index === 0 ? 'black' : datum.index === 1 ? '#0000ff' : '#ff0000'"},
           "opacity":{"value":1}}}}}}}},
      {"transform":[{"filter":"datum.series === 'Ignition Timing [-6° CA BTDC]'"}],
       "mark":{"type":"point","shape":"M-1,0H1M0,-1V1","size":200,"stroke":"black","strokeWidth":3.2,"opacity":1},
       "encoding":{"x":{"field":"x","type":"quantitative"},"y":{"field":"y","type":"quantitative"}}},
      {"transform":[{"filter":"datum.series === 'Ignition Timing [-2° CA BTDC]'"}],
       "mark":{"type":"point","shape":"diamond","size":130,"fill":"white","stroke":"#0000ff","strokeWidth":2,"opacity":1},
       "encoding":{"x":{"field":"x","type":"quantitative"},"y":{"field":"y","type":"quantitative"}}},
      {"transform":[{"filter":"datum.series === 'Ignition Timing [ 2° CA BTDC]'"}],
       "mark":{"type":"point","shape":"circle","size":225,"fill":"#ff0000","stroke":"#ff0000","strokeWidth":1,"opacity":1},
       "encoding":{"x":{"field":"x","type":"quantitative"},"y":{"field":"y","type":"quantitative"}}},
      {"data":{"values":[{}]},"mark":{"type":"rect","filled":false,"color":"black","strokeWidth":3}}
     ]}
   ],"spacing":0},
   {"width":1,"height":13.15,"mark":"text","data":{"values":[]}},
   {"width":460,"height":82.8,
    "data":{"values":[
     {"line":1,"text":"Figure 5. Indicated thermal efficiency variation in direct"},
     {"line":2,"text":"injection ratio at different ignition timing, 1500 rpm, WOT,"},
     {"line":3,"text":"EOI at 40 crank angle degrees BTD, DI duration is 65"},
     {"line":4,"text":"crank angle degrees, and total equivalence ratio 0.6."}
    ]},
    "mark":{"type":"text","align":"left","baseline":"middle","fontSize":16.5,"fontWeight":"bold"},
    "encoding":{"x":{"datum":0,"type":"quantitative","scale":{"domain":[0,1]},"axis":null},"y":{"field":"line","type":"ordinal","scale":{"type":"point","padding":0.5},"axis":null},"text":{"field":"text"}}},
   {"width":1,"height":23.95,"mark":"text","data":{"values":[]}},
   {"width":460,"height":142.8,
    "data":{"values":[
     {"line":1,"text":"result of retarding the end of injection timing which leads"},
     {"line":2,"text":"to a faster and turbulent combustion which reduces the"},
     {"line":3,"text":"heat transfer from the burning gas to the combustion"},
     {"line":4,"text":"chamber walls and increases the apparent heat release of"},
     {"line":5,"text":"the hydrogen combustion. However, the maximum indi-"},
     {"line":6,"text":"cated thermal efficiency was observed at a direct injec-"}
    ]},
    "mark":{"type":"text","align":"left","baseline":"middle","fontSize":19},
    "encoding":{"x":{"datum":0,"type":"quantitative","scale":{"domain":[0,1]},"axis":null},"y":{"field":"line","type":"ordinal","scale":{"type":"point","padding":0.5},"axis":null},"text":{"field":"text"}}}
  ],"spacing":0}
 ],"spacing":39},
 {"width":1,"height":29,"mark":"text","data":{"values":[]}},
 {"width":958,"height":20,
  "data":{"values":[{"slot":"left","text":"Copyright © 2013 SciRes."},{"slot":"right","text":"EPE"}]},
  "encoding":{"x":{"field":"slot","type":"nominal","scale":{"type":"point","domain":["left","center","right"],"padding":0},"axis":null},"text":{"field":"text"}},
  "layer":[
   {"transform":[{"filter":"datum.slot === 'left'"}],"mark":{"type":"text","align":"left","baseline":"middle","fontSize":17}},
   {"transform":[{"filter":"datum.slot === 'right'"}],"mark":{"type":"text","align":"right","baseline":"middle","fontSize":17,"fontWeight":"bold","fontStyle":"italic"}}
  ]}
]
}
